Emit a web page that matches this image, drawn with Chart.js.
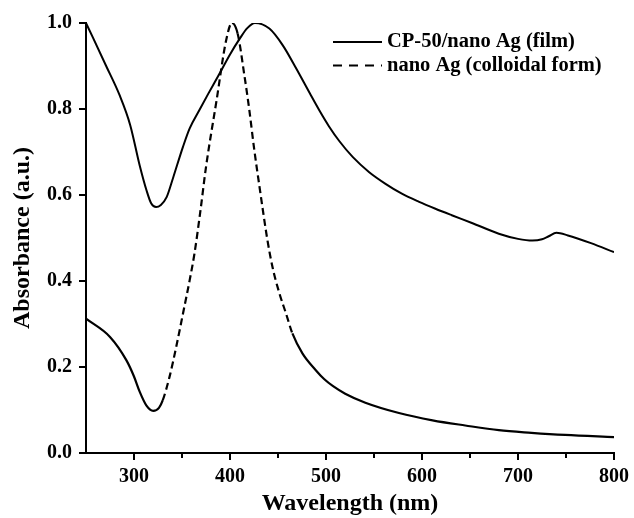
<!DOCTYPE html>
<html>
<head>
<meta charset="utf-8">
<script src="https://cdn.jsdelivr.net/npm/chart.js@4.4.1/dist/chart.umd.min.js"></script>
<style>
  html, body { margin: 0; padding: 0; background: #fff; }
  #wrap { width: 634px; height: 518px; }
</style>
</head>
<body>
<div id="wrap"><canvas id="c" width="634" height="518"></canvas></div>
<script>
// ---- data ----
const filmLabel = 'CP-50/nano Ag (film)';
const filmWavelength = [250, 257, 271, 285, 296, 306, 313, 318, 323, 328, 334, 341, 351, 358, 368, 377, 389, 400, 410, 418, 426, 441, 455, 469, 483, 493, 503, 514, 528, 545, 562, 579, 597, 614, 631, 652, 680, 700, 715, 725, 732, 740, 752, 776, 800];
const filmAbsorbance = [1.0, 0.967, 0.90, 0.832, 0.763, 0.668, 0.611, 0.58, 0.572, 0.577, 0.595, 0.642, 0.712, 0.755, 0.797, 0.834, 0.882, 0.927, 0.963, 0.988, 1.0, 0.987, 0.948, 0.894, 0.837, 0.797, 0.760, 0.725, 0.688, 0.653, 0.626, 0.603, 0.584, 0.568, 0.553, 0.535, 0.510, 0.498, 0.494, 0.497, 0.504, 0.512, 0.506, 0.488, 0.467];

const colloidLabel = 'nano Ag (colloidal form)';
const colloidWavelength = [250, 275, 292, 300, 306, 313, 320, 326, 330, 337, 344, 351, 358, 363, 369, 375, 386, 396, 402, 408, 415, 420, 425, 431, 439, 444.5, 451.5, 458.4, 465, 475.6, 489.6, 498, 507, 520, 541, 576, 611, 645, 680, 714, 749, 800];
const colloidAbsorbance = [0.3125, 0.27, 0.216, 0.178, 0.142, 0.11, 0.098, 0.105, 0.123, 0.177, 0.247, 0.324, 0.402, 0.464, 0.56, 0.665, 0.82, 0.96, 1.0, 0.975, 0.878, 0.80, 0.71, 0.615, 0.495, 0.43, 0.371, 0.324, 0.278, 0.231, 0.192, 0.172, 0.156, 0.138, 0.117, 0.093, 0.076, 0.064, 0.053, 0.047, 0.042, 0.037];

const xTicks = [300, 400, 500, 600, 700, 800];
const xMinorTicks = [350, 450, 550, 650, 750];
const yTicks = [0.0, 0.2, 0.4, 0.6, 0.8, 1.0];
const xTitle = 'Wavelength (nm)';
const yTitle = 'Absorbance (a.u.)';

// ---- chart ----
const FONT = '"Liberation Serif", "DejaVu Serif", serif';
Chart.defaults.font.family = FONT;
Chart.defaults.color = '#000';

const toPoints = (xs, ys) => xs.map((x, i) => ({ x: x, y: ys[i] }));

const minorTicksPlugin = {
  id: 'minorTicks',
  afterDraw(chart) {
    const s = chart.scales.x;
    const ctx = chart.ctx;
    ctx.save();
    ctx.strokeStyle = '#000';
    ctx.lineWidth = 2;
    xMinorTicks.forEach(v => {
      const px = s.getPixelForValue(v);
      ctx.beginPath();
      ctx.moveTo(px, s.top);
      ctx.lineTo(px, s.top + 5);
      ctx.stroke();
    });
    ctx.restore();
  }
};

const legendPlugin = {
  id: 'insideLegend',
  afterDraw(chart) {
    const ctx = chart.ctx;
    const a = chart.chartArea;
    ctx.save();
    ctx.font = 'bold 20.5px ' + FONT;
    ctx.textBaseline = 'middle';
    ctx.fillStyle = '#000';
    chart.data.datasets.forEach((ds, i) => {
      const y = a.top + 19 + i * 23.5;
      const x0 = a.left + 247;
      ctx.strokeStyle = '#000';
      ctx.lineWidth = 2;
      ctx.setLineDash(i === 0 ? [] : [9, 7]);
      ctx.beginPath();
      ctx.moveTo(x0, y);
      ctx.lineTo(x0 + 49, y);
      ctx.stroke();
      ctx.setLineDash([]);
      ctx.fillText(ds.label, x0 + 54, y);
    });
    ctx.restore();
  }
};

new Chart(document.getElementById('c'), {
  type: 'line',
  data: {
    datasets: [
      {
        label: filmLabel,
        data: toPoints(filmWavelength, filmAbsorbance),
        borderColor: '#000',
        borderWidth: 2,
        pointRadius: 0,
        fill: false,
        cubicInterpolationMode: 'monotone'
      },
      {
        label: colloidLabel,
        data: toPoints(colloidWavelength, colloidAbsorbance),
        borderColor: '#000',
        borderWidth: 2.2,
        pointRadius: 0,
        fill: false,
        cubicInterpolationMode: 'monotone',
        segment: {
          borderDash: ctx => {
            const dx = Math.abs(ctx.p1.x - ctx.p0.x) || 1;
            const dy = Math.abs(ctx.p1.y - ctx.p0.y);
            return dy / dx > 2.8 ? [7, 4] : [];
          }
        }
      }
    ]
  },
  options: {
    responsive: false,
    animation: false,
    devicePixelRatio: 1,
    layout: { padding: { left: 0, right: 18, top: 23, bottom: 0 } },
    plugins: {
      legend: { display: false },
      tooltip: { enabled: false }
    },
    scales: {
      x: {
        type: 'linear',
        min: 250,
        max: 800,
        afterBuildTicks: s => { s.ticks = xTicks.map(v => ({ value: v })); },
        afterFit: s => { s.height = 65; },
        border: { display: true, color: '#000', width: 2 },
        grid: { drawOnChartArea: false, drawTicks: true, tickLength: 7, color: '#000', lineWidth: 2 },
        ticks: { font: { size: 20, weight: 'bold' }, color: '#000', padding: 5, maxRotation: 0 },
        title: { display: true, text: xTitle, font: { size: 24, weight: 'bold' }, color: '#000', padding: { top: 0, bottom: 0 } }
      },
      y: {
        type: 'linear',
        min: 0,
        max: 1.0,
        afterBuildTicks: s => { s.ticks = yTicks.map(v => ({ value: v })); },
        afterFit: s => { s.width = 86; },
        border: { display: true, color: '#000', width: 2 },
        grid: { drawOnChartArea: false, drawTicks: true, tickLength: 7, color: '#000', lineWidth: 2 },
        ticks: { font: { size: 20, weight: 'bold' }, color: '#000', padding: 7, callback: v => Number(v).toFixed(1) },
        title: { display: true, text: yTitle, font: { size: 24, weight: 'bold' }, color: '#000', padding: { top: 8, bottom: 0 } }
      }
    }
  },
  plugins: [minorTicksPlugin, legendPlugin]
});
</script>
</body>
</html>
